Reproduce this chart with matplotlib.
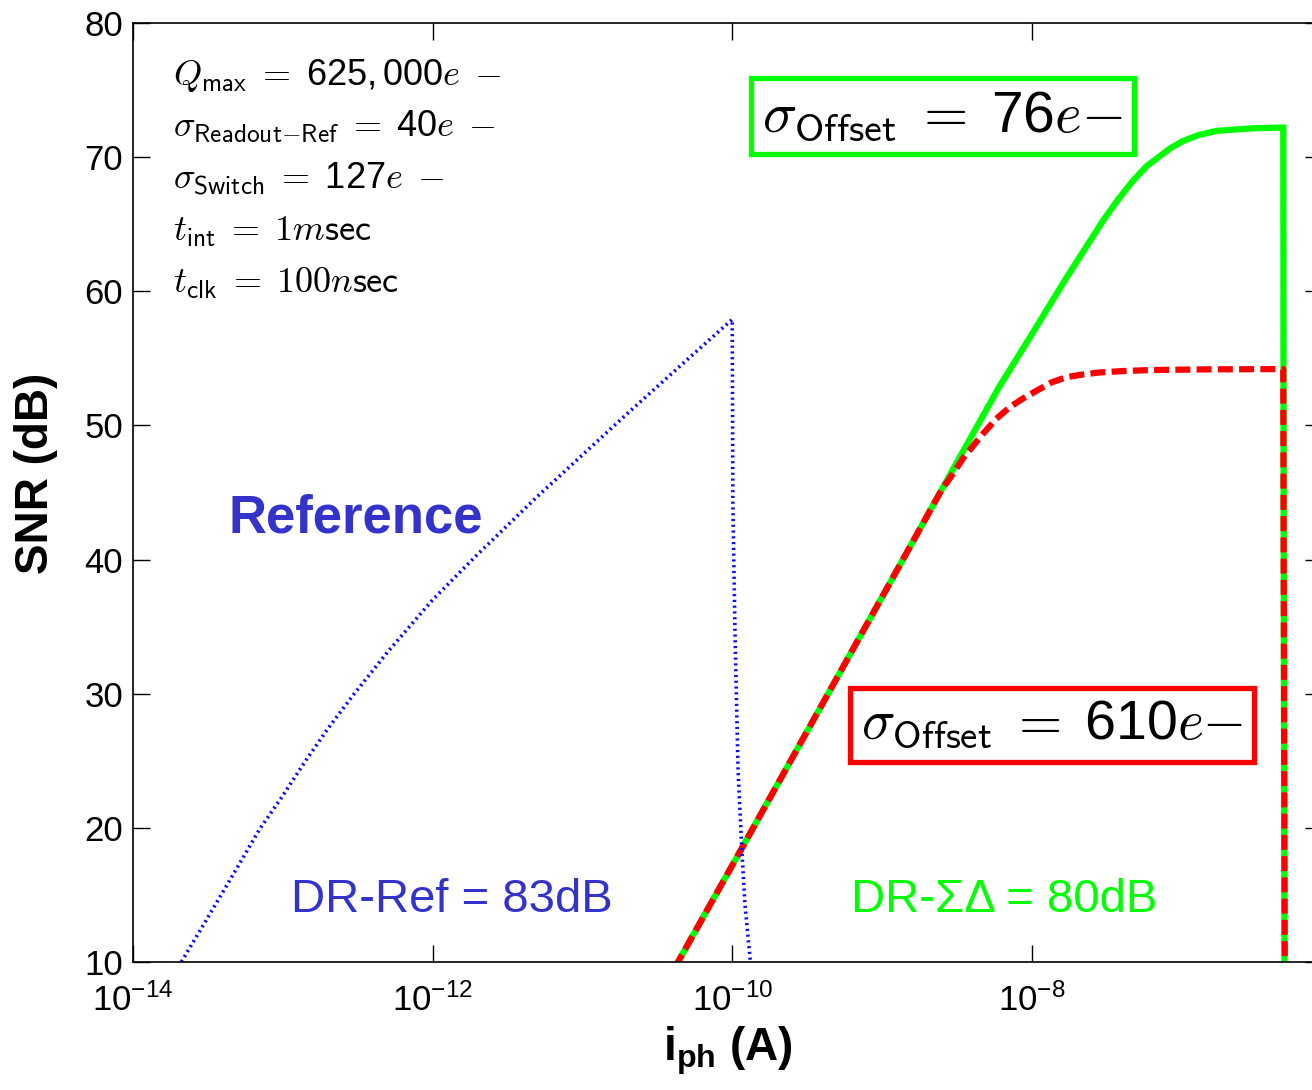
import matplotlib
matplotlib.use('Agg')
import matplotlib.pyplot as plt
from matplotlib.ticker import NullLocator, FixedLocator

plt.rcParams['font.family'] = ['Liberation Sans', 'DejaVu Sans']
plt.rcParams['mathtext.fontset'] = 'cm'

# Reference pixel (blue dotted)
ref_i = [1.5e-14, 2.0e-14, 3.0e-14, 5.0e-14, 7.0e-14, 1.0e-13, 1.4e-13, 2.0e-13, 3.0e-13,
         5.0e-13, 1.0e-12, 2.0e-12, 5.0e-12, 1.0e-11, 2.0e-11, 5.0e-11, 1.0e-10,
         1.01e-10, 1.045e-10, 1.094e-10, 1.16e-10, 1.216e-10, 1.315e-10, 1.4e-10]
ref_snr = [6.5, 9.6, 12.9, 17.1, 19.9, 22.4, 24.9, 27.4, 30.0,
           33.1, 37.0, 40.4, 44.7, 47.8, 50.9, 54.9, 57.9,
           44.2, 34.2, 24.3, 18.3, 14.3, 10.3, 7.0]

# Sigma-Delta, sigma_offset = 76e- (green solid)
sd76_i = [3.0e-11, 1.0e-10, 1.0e-9, 3.0e-9, 6.0e-9, 1.0e-8, 1.7e-8, 3.0e-8, 3.8e-8,
          4.7e-8, 5.8e-8, 7.2e-8, 8.5e-8, 1.02e-7, 1.3e-7, 1.7e-7, 2.2e-7, 3.0e-7,
          4.5e-7, 4.77e-7, 4.79e-7, 4.82e-7, 4.86e-7, 4.9e-7]
sd76_snr = [6.8, 17.2, 37.2, 46.8, 52.8, 56.8, 61.0, 65.3, 66.9,
            68.2, 69.3, 70.1, 70.7, 71.2, 71.65, 71.95, 72.05, 72.15,
            72.2, 72.2, 50.0, 30.0, 10.0, 0.0]

# Sigma-Delta, sigma_offset = 610e- (red dashed)
sd610_i = [3.0e-11, 1.0e-10, 1.0e-9, 2.5e-9, 2.85e-9, 3.5e-9, 4.74e-9, 5.8e-9, 7.1e-9,
           8.7e-9, 1.08e-8, 1.35e-8, 1.7e-8, 2.2e-8, 2.85e-8, 4.0e-8, 6.2e-8,
           1.5e-7, 4.77e-7, 4.8e-7, 4.84e-7, 4.88e-7, 4.9e-7]
sd610_snr = [6.8, 17.2, 37.2, 45.2, 46.1, 47.6, 49.4, 50.5, 51.35,
             52.0, 52.6, 53.2, 53.6, 53.8, 53.95, 54.05, 54.13,
             54.18, 54.2, 40.0, 25.0, 10.0, 0.0]

xticks = [1e-14, 1e-12, 1e-10, 1e-8]
yticks = [10, 20, 30, 40, 50, 60, 70, 80]

params = [r'$Q_{\mathsf{max}} \;=\; \mathdefault{625,000}e\;-$',
          r'$\sigma_{\mathsf{Readout{-}Ref}} \;=\; \mathdefault{40}e\;-$',
          r'$\sigma_{\mathsf{Switch}} \;=\; \mathdefault{127}e\;-$',
          r'$t_{\mathsf{int}} \;=\; 1m\mathsf{sec}$',
          r'$t_{\mathsf{clk}} \;=\; 100n\mathsf{sec}$']

fig = plt.figure(figsize=(13.12, 10.9), dpi=100)
ax = fig.add_axes([133/1312, 128/1090, 1189/1312, 939/1090])

ax.plot(sd76_i, sd76_snr, color='#00ff00', lw=4.5, solid_joinstyle='miter')
ax.plot(sd610_i, sd610_snr, color='#ff0000', lw=4.5, dashes=(2.4, 1.0))
ax.plot(ref_i, ref_snr, color='#0a0aff', lw=2.6, linestyle=(0, (0.6, 1.0)))

ax.set_xscale('log')
ax.set_xlim(1e-14, 10**-6.063)
ax.set_ylim(10, 80)
ax.xaxis.set_major_locator(FixedLocator(xticks))
ax.xaxis.set_minor_locator(NullLocator())
ax.set_yticks(yticks)
ax.tick_params(direction='in', length=12, width=1, top=True, right=True,
               labelsize=25, colors='black')
ax.tick_params(axis='x', pad=15)
ax.tick_params(axis='y', pad=7)
for s in ax.spines.values():
    s.set_linewidth(1.2)

ax.set_ylabel('SNR (dB)', fontsize=33, fontweight='bold', va='center')
ax.yaxis.set_label_coords(-0.082, 0.52)
ax.set_xlabel(r'$\mathdefault{i_{ph}}$ (A)', fontsize=33, fontweight='bold')
ax.xaxis.set_label_coords(0.5, -0.067)

for k, s in enumerate(params):
    ax.text(0.034, 0.934 - k*0.0554, s, transform=ax.transAxes, fontsize=26,
            va='baseline', ha='left')

ax.text(0.681, 0.901, r'$\sigma_{\mathsf{Offset}} \;=\; \mathdefault{76}e{-}$',
        transform=ax.transAxes, fontsize=41, ha='center', va='center',
        bbox=dict(boxstyle='square,pad=0.2', fc='white', ec='#00ff00', lw=3.8))
ax.text(0.773, 0.2524, r'$\sigma_{\mathsf{Offset}} \;=\; \mathdefault{610}e{-}$',
        transform=ax.transAxes, fontsize=40, ha='center', va='center',
        bbox=dict(boxstyle='square,pad=0.2', fc='white', ec='#ff0000', lw=3.8))

ax.text(0.0799, 0.4718, 'Reference', transform=ax.transAxes, fontsize=38,
        fontweight='bold', color='#3333cc', ha='left', va='center')
ax.text(0.268, 0.066, 'DR-Ref = 83dB', transform=ax.transAxes, fontsize=34,
        color='#3333cc', ha='center', va='center')
ax.text(0.733, 0.066, 'DR-ΣΔ = 80dB', transform=ax.transAxes, fontsize=34,
        color='#00ff00', ha='center', va='center')

fig.savefig('out.png', dpi=100)
